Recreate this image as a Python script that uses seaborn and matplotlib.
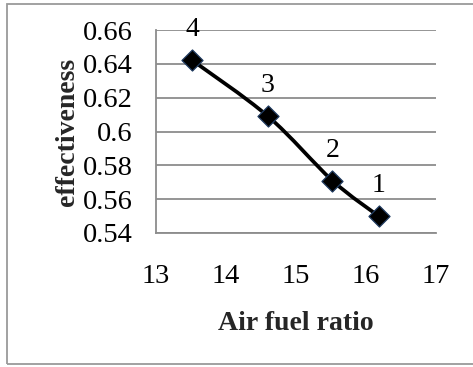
import matplotlib
matplotlib.use("Agg")
import matplotlib.pyplot as plt
from matplotlib.path import Path
from matplotlib.patches import PathPatch, Rectangle
import seaborn as sns
import pandas as pd

# Measured operating points
air_fuel_ratio = [13.52, 14.60, 15.52, 16.18]
effectiveness = [0.642, 0.609, 0.571, 0.550]
point_labels = ["4", "3", "2", "1"]
x_ticks = [13, 14, 15, 16, 17]
y_ticks = [0.54, 0.56, 0.58, 0.60, 0.62, 0.64, 0.66]
y_tick_labels = ["0.54", "0.56", "0.58", "0.6", "0.62", "0.64", "0.66"]

df = pd.DataFrame({"afr": air_fuel_ratio, "eff": effectiveness, "lbl": point_labels})

sns.set_style("white")
plt.rcParams["font.family"] = ["Liberation Serif", "DejaVu Serif"]

fig = plt.figure(figsize=(4.73, 3.67), dpi=100)
ax = fig.add_axes([156 / 473, (367 - 233) / 367, (436 - 156) / 473, (233 - 30) / 367])

grid_c = "#8c8c8c"

# Smoothed connecting curve (cubic Bezier segments through the points)
xs, ys = df["afr"].tolist(), df["eff"].tolist()
n = len(xs)
verts = [(xs[0], ys[0])]
codes = [Path.MOVETO]
for i in range(n - 1):
    p0 = (xs[max(i - 1, 0)], ys[max(i - 1, 0)])
    p1 = (xs[i], ys[i])
    p2 = (xs[i + 1], ys[i + 1])
    p3 = (xs[min(i + 2, n - 1)], ys[min(i + 2, n - 1)])
    c1 = (p1[0] + (p2[0] - p0[0]) / 6, p1[1] + (p2[1] - p0[1]) / 6)
    c2 = (p2[0] - (p3[0] - p1[0]) / 6, p2[1] - (p3[1] - p1[1]) / 6)
    verts += [c1, c2, p2]
    codes += [Path.CURVE4] * 3
ax.add_patch(PathPatch(Path(verts, codes), fill=False, edgecolor="black", lw=2.7, zorder=3))

sns.scatterplot(data=df, x="afr", y="eff", ax=ax, marker="D", s=115,
                color="black", edgecolor="#1f3a5f", linewidth=0.9, zorder=4, legend=False)

for xv, yv, lb in zip(xs, ys, point_labels):
    ax.annotate(lb, (xv, yv), xytext=(0, 22), textcoords="offset points",
                ha="center", va="center", fontsize=20, color="black")

ax.set_xlim(13, 17)
ax.set_ylim(0.54, 0.66)
ax.set_xticks(x_ticks)
ax.set_xticklabels([str(t) for t in x_ticks])
ax.set_yticks(y_ticks)
ax.set_yticklabels(y_tick_labels)
ax.yaxis.grid(True, color=grid_c, lw=1.3)
ax.xaxis.grid(False)
for side in ["top", "right"]:
    ax.spines[side].set_visible(False)
for side in ["left", "bottom"]:
    ax.spines[side].set_color(grid_c)
    ax.spines[side].set_linewidth(1.3)
ax.tick_params(axis="both", which="major", direction="out", length=6, width=1.3,
               color=grid_c, labelsize=20.5, labelcolor="black")
ax.tick_params(axis="x", pad=16)
ax.tick_params(axis="y", pad=11)
ax.set_xlabel("Air fuel ratio", fontsize=20, fontweight="bold", labelpad=16)
ax.set_ylabel("effectiveness", fontsize=20, fontweight="bold", labelpad=2)

# Chart frame
fig.patches.append(Rectangle((7 / 473, 3 / 367), 1.2, 1 - 7 / 367, transform=fig.transFigure,
                             fill=False, edgecolor="#9a9a9a", lw=1.3))

fig.savefig("out.png", dpi=100)
